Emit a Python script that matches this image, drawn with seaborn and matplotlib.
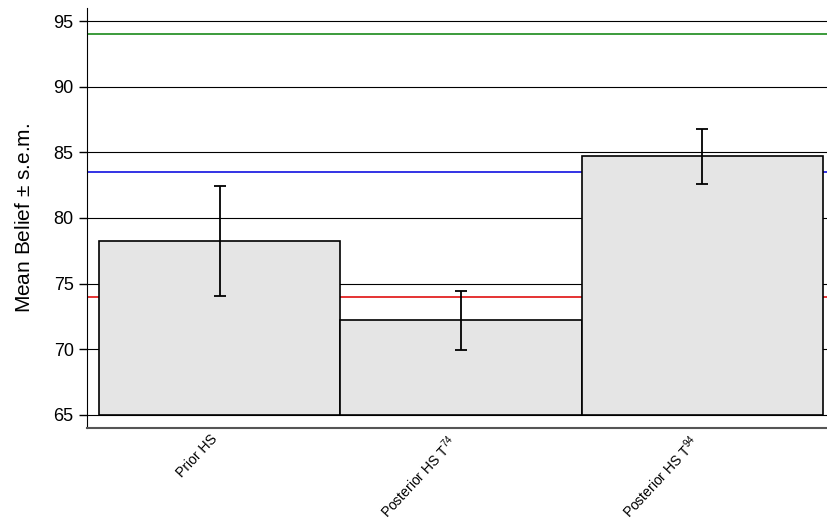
import pandas as pd
import numpy as np
import matplotlib
matplotlib.use('Agg')
import matplotlib.pyplot as plt
import seaborn as sns

# values
conditions = ['Prior HS', 'Posterior HS T$^{74}$', 'Posterior HS T$^{94}$']
mean_belief = [78.25, 72.2, 84.7]
sem_belief = [4.2, 2.25, 2.1]
ref_levels = [94, 83.5, 74]
ref_colors = ['#1a8a1a', '#1010e0', '#e01010']
bar_base = 65

sns.set_style('white')
plt.rcParams['font.family'] = ['Liberation Sans', 'DejaVu Sans']
plt.rcParams['mathtext.default'] = 'regular'
plt.rcParams['text.color'] = 'black'
plt.rcParams['axes.labelcolor'] = 'black'
plt.rcParams['xtick.color'] = 'black'
plt.rcParams['ytick.color'] = 'black'

df = pd.DataFrame({'condition': conditions, 'belief': mean_belief, 'sem': sem_belief})

fig = plt.figure(figsize=(8.28, 5.25), dpi=100)
ax = fig.add_axes([0.105, 0.1848, 0.895, 0.8])

sns.barplot(data=df, x='condition', y='belief', color='#e5e5e5', saturation=1,
            edgecolor='black', linewidth=1.2, width=1, errorbar=None, ax=ax)

# bars start at 65, not 0
for p in ax.patches:
    h = p.get_height()
    p.set_y(bar_base)
    p.set_height(h - bar_base)

ax.errorbar(np.arange(len(df)), df['belief'], yerr=df['sem'], fmt='none',
            ecolor='black', elinewidth=1.3, capsize=4, capthick=1.3, zorder=3)

for lvl, c in zip(ref_levels, ref_colors):
    ax.axhline(lvl, color=c, lw=1.2, zorder=0.8)

ax.set_axisbelow(True)
ax.yaxis.grid(True, color='black', lw=0.8)
ax.set_ylim(64, 96)
ax.set_xlim(-0.55, 2.52)
ax.set_yticks([65, 70, 75, 80, 85, 90, 95])

sns.despine(ax=ax, top=True, right=True)
ax.spines['left'].set_color('black')
ax.spines['bottom'].set_color('#555555')
ax.spines['bottom'].set_linewidth(1.5)

ax.tick_params(axis='y', length=6, width=1, color='black', labelsize=13, left=True)
ax.tick_params(axis='x', length=0, labelsize=10, pad=3)
plt.setp(ax.get_xticklabels(), rotation=47, ha='right')

ax.set_xlabel('')
ax.set_ylabel('Mean Belief $\\pm$ s.e.m.', fontsize=15, labelpad=14)

fig.savefig('out.png', dpi=100)
